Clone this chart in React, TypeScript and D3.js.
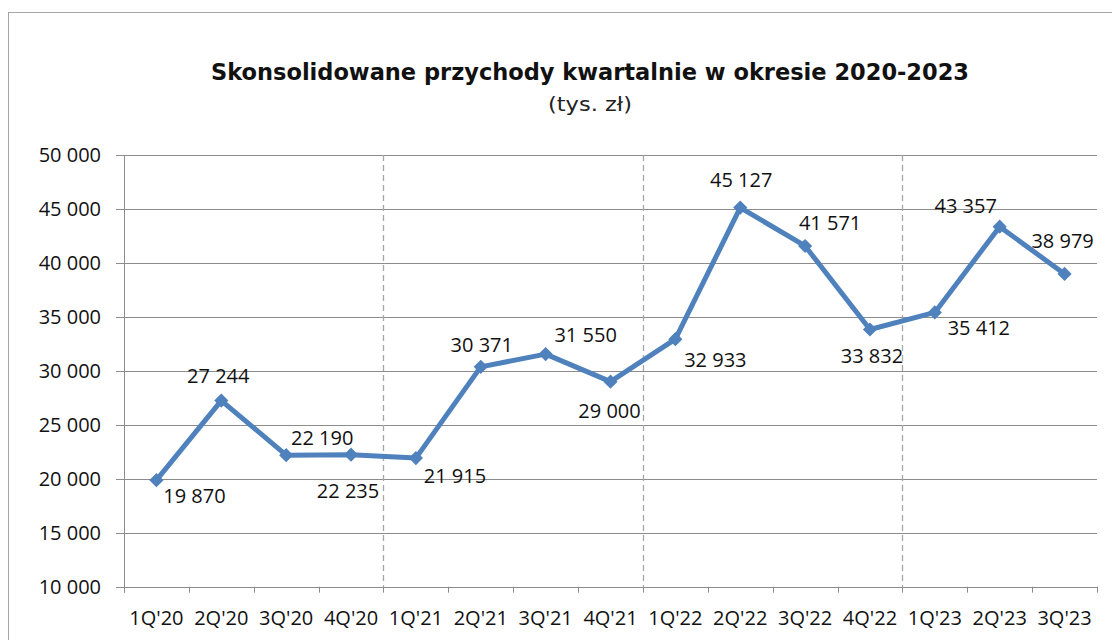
import React from "react";
import * as d3 from "d3";

const categories = [
  "1Q'20", "2Q'20", "3Q'20", "4Q'20",
  "1Q'21", "2Q'21", "3Q'21", "4Q'21",
  "1Q'22", "2Q'22", "3Q'22", "4Q'22",
  "1Q'23", "2Q'23", "3Q'23",
];
const revenue = [
  19870, 27244, 22190, 22235,
  21915, 30371, 31550, 29000,
  32933, 45127, 41571, 33832,
  35412, 43357, 38979,
];
const yTicks = [10000, 15000, 20000, 25000, 30000, 35000, 40000, 45000, 50000];
const yearBreaks = ["1Q'21", "1Q'22", "1Q'23"];
const title = "Skonsolidowane przychody kwartalnie w okresie 2020-2023";
const subtitle = "(tys. zł)";

// label placement relative to each point (dx to text centre, dy to baseline)
const labelDx = [38, -3, 36, -3, 39, 1, 40, -1, 40, 1, 25, 2, 44, -34, -2];
const labelDy = [23, -18, -10, 43, 25, -15, -12, 36, 28, -21, -16, 34, 23, -14, -26];

const fmt = (v: number) => {
  const s = String(Math.round(v));
  return s.replace(/\B(?=(\d{3})+(?!\d))/g, " ");
};

export default function App() {
  const W = 1112, H = 640;
  const left = 124, right = 1097, top = 155, bottom = 586.7;
  const x = d3.scaleBand<string>().domain(categories).range([left, right]).padding(0);
  const y = d3.scaleLinear().domain([10000, 50000]).range([bottom, top]);
  const cx = (c: string) => (x(c) as number) + x.bandwidth() / 2;

  const line = d3.line<number>()
    .x((_, i) => cx(categories[i]))
    .y((d) => y(d));
  const diamond = d3.symbol().type(d3.symbolSquare).size(100)();

  const boundaries = d3.range(categories.length + 1).map((i) => left + i * x.bandwidth());
  const labelFont = "'Open Sans', 'Liberation Sans', sans-serif";
  const grid = "#8c8c8c";

  return (
    <svg width={W} height={H} style={{ position: "absolute", left: 0, top: 0, background: "#fff" }}>
      <rect x={0} y={0} width={W} height={H} fill="#fff" />
      <rect x={8.5} y={12.5} width={1120} height={660} fill="none" stroke="#a6a6a6" strokeWidth={1} />

      <text x={590} y={80} textAnchor="middle" fontFamily="'DejaVu Sans', sans-serif" fontWeight="bold"
        fontSize={23} fill="#111" textLength={758} lengthAdjust="spacingAndGlyphs">{title}</text>
      <text x={590} y={111} textAnchor="middle" fontFamily="'DejaVu Sans', sans-serif"
        fontSize={20} fill="#222" textLength={84} lengthAdjust="spacingAndGlyphs">{subtitle}</text>

      {yTicks.map((t) => (
        <g key={t}>
          <line x1={116} x2={right} y1={Math.round(y(t)) + 0.5} y2={Math.round(y(t)) + 0.5} stroke={grid} strokeWidth={1} />
          <text x={101} y={y(t) + 7} textAnchor="end" fontFamily={labelFont} fontSize={20} fill="#111">{fmt(t)}</text>
        </g>
      ))}

      {yearBreaks.map((c) => (
        <line key={c} x1={Math.round(x(c) as number) + 0.5} x2={Math.round(x(c) as number) + 0.5}
          y1={top} y2={bottom} stroke="#a6a6a6" strokeWidth={1.3} strokeDasharray="6,4" />
      ))}

      <line x1={left + 0.5} x2={left + 0.5} y1={top} y2={bottom + 6} stroke={grid} strokeWidth={1} />
      {boundaries.map((bx, i) => (
        <line key={i} x1={Math.round(bx) + 0.5} x2={Math.round(bx) + 0.5} y1={bottom} y2={bottom + 6} stroke={grid} strokeWidth={1} />
      ))}

      {categories.map((c) => (
        <text key={c} x={cx(c)} y={625} textAnchor="middle" fontFamily={labelFont} fontSize={20} fill="#111">{c}</text>
      ))}

      <path d={line(revenue) || ""} fill="none" stroke="#4F81BD" strokeWidth={5} strokeLinejoin="round" />
      {revenue.map((v, i) => (
        <path key={i} d={diamond || ""} transform={`translate(${cx(categories[i])},${y(v)}) rotate(45)`} fill="#4F81BD" />
      ))}

      {revenue.map((v, i) => (
        <text key={i} x={cx(categories[i]) + labelDx[i]} y={y(v) + labelDy[i]} textAnchor="middle"
          fontFamily={labelFont} fontSize={20} fill="#111">{fmt(v)}</text>
      ))}
    </svg>
  );
}
